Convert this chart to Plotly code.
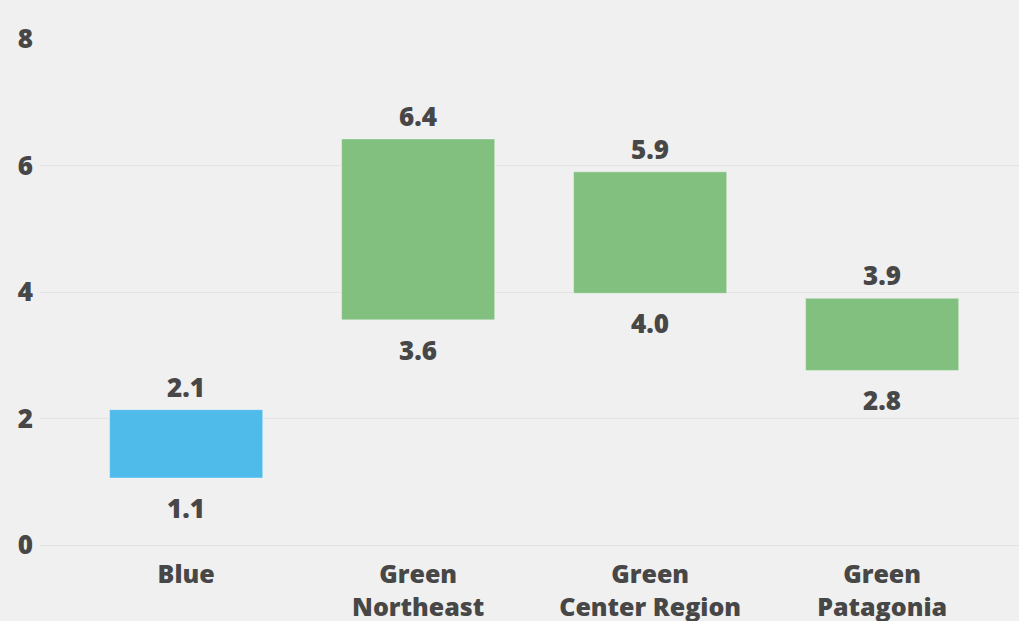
import plotly.graph_objects as go

categories = ["Blue", "Green<br>Northeast", "Green<br>Center Region", "Green<br>Patagonia"]
low_values = [1.06, 3.56, 3.98, 2.76]
high_values = [2.14, 6.42, 5.9, 3.9]
bar_colors = ["#4fbbeb", "#82c080", "#82c080", "#82c080"]
y_ticks = [0, 2, 4, 6, 8]

FONT = "Open Sans"
TXT = "#474747"

fig = go.Figure()
fig.add_trace(go.Bar(
    x=categories,
    y=[h - l for h, l in zip(high_values, low_values)],
    base=low_values,
    marker=dict(color=bar_colors, line=dict(color="rgba(255,255,255,0.35)", width=1)),
    width=0.66,
    hoverinfo="skip",
))

for c, lo, hi in zip(categories, low_values, high_values):
    fig.add_annotation(x=c, y=hi, text=f"{hi:.1f}", showarrow=False,
                       yanchor="bottom", yshift=3,
                       font=dict(family=FONT, size=26, color=TXT, weight=800))
    fig.add_annotation(x=c, y=lo, text=f"{lo:.1f}", showarrow=False,
                       yanchor="top", yshift=-10,
                       font=dict(family=FONT, size=26, color=TXT, weight=800))

fig.update_layout(
    width=1019, height=621,
    margin=dict(l=40, r=0, t=39, b=76),
    paper_bgcolor="#f0f0f0",
    plot_bgcolor="#f0f0f0",
    showlegend=False,
    font=dict(family=FONT, size=25, color=TXT),
    xaxis=dict(
        range=[-0.63, 3.59],
        showgrid=False, zeroline=False, showline=False,
        tickfont=dict(family=FONT, size=25, color=TXT, weight=800),
        ticks="", ticklen=0, ticklabelstandoff=12,
        automargin=False,
    ),
    yaxis=dict(
        range=[0, 8],
        tickvals=y_ticks,
        showgrid=True, gridcolor="#e3e3e3", gridwidth=1,
        zeroline=True, zerolinecolor="#e3e3e3", zerolinewidth=1,
        showline=False,
        tickfont=dict(family=FONT, size=26, color=TXT, weight=800),
        ticks="", automargin=False, ticklabelstandoff=6,
    ),
)

fig.write_html("out.html")
